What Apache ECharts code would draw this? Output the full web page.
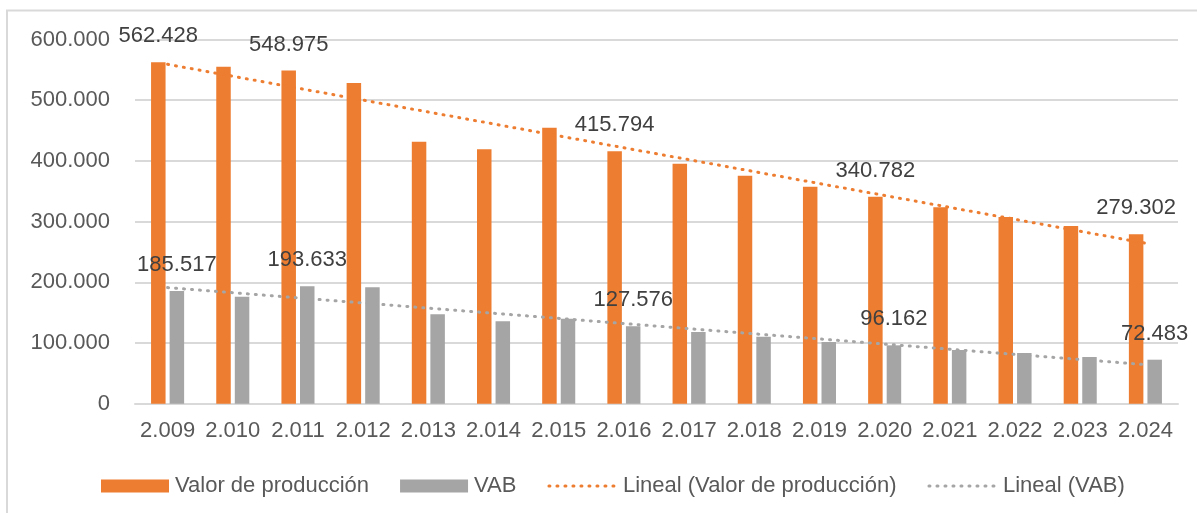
<!DOCTYPE html>
<html>
<head>
<meta charset="utf-8">
<script src="https://cdn.jsdelivr.net/npm/echarts@6/dist/echarts.min.js"></script>
<style>
html,body{margin:0;padding:0;background:#fff;}
#c{width:1197px;height:513px;}
</style>
</head>
<body>
<div id="c"></div>
<script>
const categories = ['2009','2010','2011','2012','2013','2014','2015','2016','2017','2018','2019','2020','2021','2022','2023','2024'];
const valorProduccion = [562428,555200,548975,528300,431600,419100,454700,415794,395400,375600,357500,340782,323500,307600,292700,279302];
const vab = [185517,176300,193633,191800,147300,135700,140000,127576,118100,110400,101600,96162,88500,83500,76900,72483];
const labeledIdx = [0,2,7,11,15];
const yTicks = [0,100000,200000,300000,400000,500000,600000];
const seriesNames = ['Valor de producción','VAB','Lineal (Valor de producción)','Lineal (VAB)'];

function fmt(n){
  return String(Math.round(n)).replace(/\B(?=(\d{3})+(?!\d))/g,'.');
}
function fmtYear(s){ return s.charAt(0)+'.'+s.slice(1); }
function trend(arr){
  const n=arr.length; let sx=0,sy=0,sxx=0,sxy=0;
  arr.forEach((y,i)=>{sx+=i;sy+=y;sxx+=i*i;sxy+=i*y;});
  const b=(n*sxy-sx*sy)/(n*sxx-sx*sx); const a=(sy-b*sx)/n;
  return arr.map((_,i)=>a+b*i);
}
function withLabels(arr){
  return arr.map((v,i)=>labeledIdx.includes(i)?{value:v,label:{show:true}}:v);
}

const FONT='Liberation Sans';
const chart = echarts.init(document.getElementById('c'),null,{renderer:'canvas'});
chart.setOption({
  animation:false,
  backgroundColor:'#fff',
  textStyle:{fontFamily:FONT},
  graphic:[{type:'rect',shape:{x:7,y:10.5,width:1300,height:600},style:{fill:'none',stroke:'#d9d9d9',lineWidth:2},silent:true,z:-1}],
  grid:{left:135,right:19,top:39.5,bottom:109.3,containLabel:false},
  legend:{
    left:96, top:470,
    itemWidth:68, itemHeight:13, itemGap:31,
    textStyle:{fontFamily:FONT,fontSize:22,color:'#595959',padding:[0,0,0,1]},
    data:[
      {name:seriesNames[0],icon:'rect'},
      {name:seriesNames[1],icon:'rect'},
      {name:seriesNames[2],itemStyle:{opacity:0},lineStyle:{width:3,type:[1,7],cap:'round'}},
      {name:seriesNames[3],itemStyle:{opacity:0},lineStyle:{width:3,type:[1,7],cap:'round'}}
    ]
  },
  xAxis:{
    type:'category', data:categories,
    axisLine:{lineStyle:{color:'#d9d9d9',width:2}},
    axisTick:{show:false},
    axisLabel:{interval:0,formatter:fmtYear,fontFamily:FONT,fontSize:22,color:'#595959',margin:16}
  },
  yAxis:{
    type:'value', min:yTicks[0], max:yTicks[yTicks.length-1], interval:100000,
    axisLine:{show:false}, axisTick:{show:false},
    splitLine:{lineStyle:{color:'#d9d9d9',width:2}},
    axisLabel:{formatter:fmt,fontFamily:FONT,fontSize:22,color:'#595959',margin:25}
  },
  series:[
    {name:seriesNames[0],type:'bar',data:withLabels(valorProduccion),barWidth:14.5,barGap:'28%',
     itemStyle:{color:'#ED7D31'},
     label:{show:false,position:'top',distance:15,formatter:p=>fmt(p.value),fontFamily:FONT,fontSize:22,color:'#404040'}},
    {name:seriesNames[1],type:'bar',data:withLabels(vab),barWidth:14.5,
     itemStyle:{color:'#A5A5A5'},
     label:{show:false,position:'top',distance:15,formatter:p=>fmt(p.value),fontFamily:FONT,fontSize:22,color:'#404040'}},
    {name:seriesNames[2],type:'line',data:trend(valorProduccion),symbol:'none',z:5,
     itemStyle:{color:'#ED7D31'},
     lineStyle:{color:'#ED7D31',width:3,type:[1,7],cap:'round'}},
    {name:seriesNames[3],type:'line',data:trend(vab),symbol:'none',z:5,
     itemStyle:{color:'#A5A5A5'},
     lineStyle:{color:'#A5A5A5',width:3,type:[1,7],cap:'round'}}
  ]
});
</script>
</body>
</html>
